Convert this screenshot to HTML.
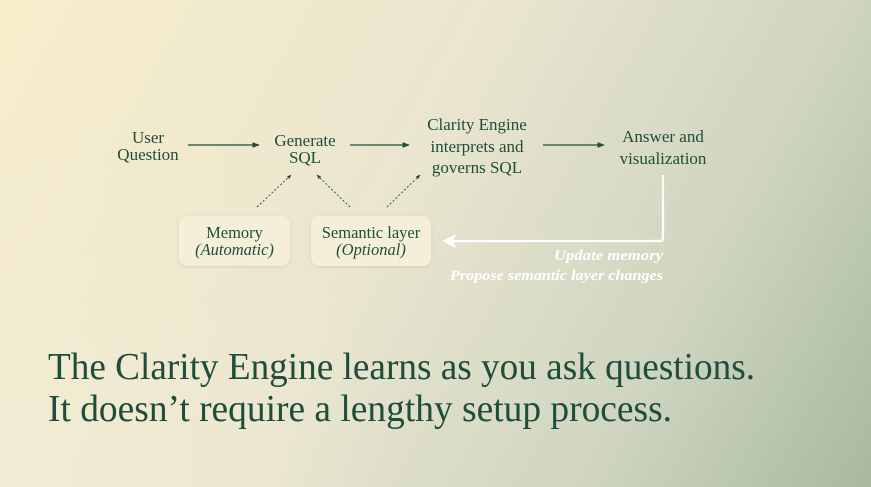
<!DOCTYPE html>
<html><head><meta charset="utf-8"><style>
html,body{margin:0;padding:0;width:871px;height:487px;overflow:hidden}
svg{display:block}
text{font-family:"Liberation Serif",serif;fill:#1f4d3b}
</style></head><body>
<svg width="871" height="487" viewBox="0 0 871 487" xmlns="http://www.w3.org/2000/svg">
<defs>
<linearGradient id="bg" x1="0" y1="0" x2="871" y2="487" gradientUnits="userSpaceOnUse">
<stop offset="0" stop-color="#f8eecb"/>
<stop offset="0.45" stop-color="#e9e5cf"/>
<stop offset="0.75" stop-color="#cfd5c0"/>
<stop offset="1" stop-color="#a8b99f"/>
</linearGradient>
<radialGradient id="bl" cx="0" cy="487" r="400" gradientUnits="userSpaceOnUse">
<stop offset="0" stop-color="#f3ecd6" stop-opacity="0.8"/>
<stop offset="1" stop-color="#f3ecd6" stop-opacity="0"/>
</radialGradient>
<filter id="sh" x="-10%" y="-10%" width="120%" height="130%"><feDropShadow dx="0" dy="1" stdDeviation="1.5" flood-color="#8a8460" flood-opacity="0.25"/></filter>
<marker id="ah" viewBox="0 0 10 10" refX="9" refY="5" markerWidth="6" markerHeight="6" orient="auto">
<path d="M0,1 L10,5 L0,9 z" fill="#1f4d3b"/></marker>
<marker id="ahs" viewBox="0 0 10 10" refX="9" refY="5" markerWidth="5" markerHeight="5" orient="auto">
<path d="M0,1 L10,5 L0,9 z" fill="#1f4d3b"/></marker>
</defs>
<rect width="871" height="487" fill="url(#bg)"/>
<rect width="871" height="487" fill="url(#bl)"/>

<g font-size="17" text-anchor="middle">
<text x="148" y="143">User</text>
<text x="148" y="160">Question</text>
<text x="305" y="146">Generate</text>
<text x="305" y="163">SQL</text>
<text x="477" y="130">Clarity Engine</text>
<text x="477" y="152">interprets and</text>
<text x="477" y="173">governs SQL</text>
<text x="663" y="142">Answer and</text>
<text x="663" y="164">visualization</text>
</g>

<g stroke="#1f4d3b" stroke-width="1.2" fill="none">
<line x1="188" y1="145" x2="259" y2="145" marker-end="url(#ah)"/>
<line x1="350" y1="145" x2="409" y2="145" marker-end="url(#ah)"/>
<line x1="543" y1="145" x2="604" y2="145" marker-end="url(#ah)"/>
</g>
<g stroke="#1f4d3b" stroke-width="0.9" fill="none" stroke-dasharray="2,2">
<line x1="257" y1="207" x2="291" y2="175" marker-end="url(#ahs)"/>
<line x1="350" y1="207" x2="317" y2="175" marker-end="url(#ahs)"/>
<line x1="387" y1="207" x2="420" y2="175" marker-end="url(#ahs)"/>
</g>

<rect x="179" y="216" width="111" height="50" rx="8" fill="#f5efd9" filter="url(#sh)"/>
<rect x="311" y="216" width="120" height="50" rx="8" fill="#f5efd9" filter="url(#sh)"/>
<g font-size="16.5" text-anchor="middle">
<text x="234.5" y="238">Memory</text>
<text x="234.5" y="255" font-style="italic">(Automatic)</text>
<text x="371" y="238">Semantic layer</text>
<text x="371" y="255" font-style="italic">(Optional)</text>
</g>

<path d="M663,175 L663,238 Q663,241 660,241 L452,241" stroke="#fff" stroke-width="2.2" fill="none"/>
<path d="M442,241 L456,234 L453,241 L456,248 z" fill="#fff"/>
<g font-size="15" font-style="italic" font-weight="bold">
<text x="554" y="260" textLength="109" lengthAdjust="spacingAndGlyphs" style="fill:#fff">Update memory</text>
<text x="450" y="280" textLength="213" lengthAdjust="spacingAndGlyphs" style="fill:#fff">Propose semantic layer changes</text>
</g>

<g font-size="38">
<text x="48" y="379" textLength="707" lengthAdjust="spacingAndGlyphs">The Clarity Engine learns as you ask questions.</text>
<text x="48" y="421" textLength="624" lengthAdjust="spacingAndGlyphs">It doesn’t require a lengthy setup process.</text>
</g>
</svg>
</body></html>
